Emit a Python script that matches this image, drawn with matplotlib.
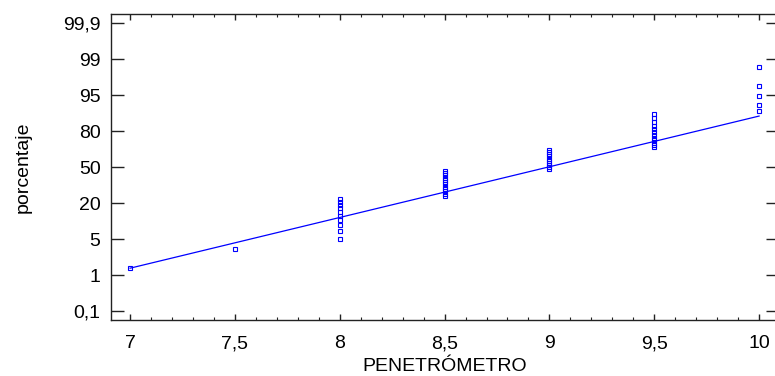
from statistics import NormalDist

import matplotlib
matplotlib.use("Agg")
import matplotlib.pyplot as plt
import numpy as np
from matplotlib.ticker import FixedLocator, NullLocator, MultipleLocator

# penetrometer readings and their cumulative percentages
x_levels = [7.0, 7.5, 8.0, 8.5, 9.0, 9.5, 10.0]
pct_7 = [1.4]
pct_7_5 = [3.4]
pct_8 = [5.1, 7.1, 9.0, 11.0, 12.9, 14.9, 16.8, 18.8, 20.7, 22.7]
pct_8_5 = [24.6, 26.6, 28.5, 30.5, 32.4, 34.4, 36.3, 38.3, 40.2, 42.2, 44.1, 46.1]
pct_9 = [48.0, 50.0, 52.0, 53.9, 55.9, 57.8, 59.8, 61.7, 63.7, 65.6]
pct_9_5 = [67.6, 69.5, 71.5, 73.4, 75.4, 77.3, 79.3, 81.2, 83.2, 85.1, 87.1, 89.0]
pct_10 = [90.1, 92.4, 94.7, 96.5, 98.5]

# fitted normal line
fit_x = [7.0, 10.0]
fit_pct = [1.4, 88.0]

y_ticks = [0.1, 1, 5, 20, 50, 80, 95, 99, 99.9]
y_labels = ["0,1", "1", "5", "20", "50", "80", "95", "99", "99,9"]
x_ticks = [7, 7.5, 8, 8.5, 9, 9.5, 10]
x_labels = ["7", "7,5", "8", "8,5", "9", "9,5", "10"]

ND = NormalDist()
TZ = np.array([ND.inv_cdf(t / 100.0) for t in y_ticks])
TI = np.arange(len(y_ticks), dtype=float)


def probit(p):
    p = np.clip(np.asarray(p, dtype=float) / 100.0, 1e-12, 1 - 1e-12)
    return np.array([ND.inv_cdf(v) for v in p.ravel()]).reshape(p.shape)


def forward(p):
    # evenly spaced tick positions, piecewise linear in probit between them
    z = probit(p)
    pos = np.interp(z, TZ, TI)
    lo = z < TZ[0]
    hi = z > TZ[-1]
    pos[lo] = (z[lo] - TZ[0]) / (TZ[1] - TZ[0])
    pos[hi] = TI[-1] + (z[hi] - TZ[-1]) / (TZ[-1] - TZ[-2])
    return pos


def inverse(pos):
    pos = np.asarray(pos, dtype=float)
    z = np.interp(pos, TI, TZ)
    lo = pos < TI[0]
    hi = pos > TI[-1]
    z[lo] = TZ[0] + pos[lo] * (TZ[1] - TZ[0])
    z[hi] = TZ[-1] + (pos[hi] - TI[-1]) * (TZ[-1] - TZ[-2])
    return np.array([ND.cdf(v) * 100.0 for v in z.ravel()]).reshape(z.shape)


plt.rcParams["font.family"] = ["Liberation Sans", "DejaVu Sans"]

fig = plt.figure(figsize=(7.75, 3.76), dpi=100)
ax = fig.add_axes([111 / 775, 56 / 376, 668 / 775, 306 / 376])
ax.set_yscale("function", functions=(forward, inverse))

blue = "#0000ff"
columns = [pct_7, pct_7_5, pct_8, pct_8_5, pct_9, pct_9_5, pct_10]
for xv, pcts in zip(x_levels, columns):
    ax.plot([xv] * len(pcts), pcts, linestyle="none", marker="s", markersize=3.3,
            markerfacecolor="none", markeredgecolor=blue, markeredgewidth=0.8)

ax.plot(fit_x, fit_pct, color=blue, linewidth=0.9)

ax.set_xlim(6.909, 10.095)
ax.set_ylim(inverse(np.array([-0.25]))[0], inverse(np.array([8.25]))[0])

ax.xaxis.set_major_locator(FixedLocator(x_ticks))
ax.set_xticklabels(x_labels)
ax.xaxis.set_minor_locator(MultipleLocator(0.1))
ax.yaxis.set_major_locator(FixedLocator(y_ticks))
ax.set_yticklabels(y_labels)
ax.yaxis.set_minor_locator(NullLocator())

ax.tick_params(axis="x", which="major", direction="in", length=4.5, width=1.0,
               top=True, labelsize=14, pad=11, color="#222222")
ax.tick_params(axis="x", which="minor", direction="in", length=2.5, width=0.8,
               top=True, color="#222222")
ax.tick_params(axis="y", which="major", direction="in", length=9.5, width=1.0,
               right=True, labelsize=14, pad=7.5, color="#222222")

for side in ["left", "bottom", "top", "right"]:
    ax.spines[side].set_linewidth(1.0)
    ax.spines[side].set_color("#222222")

ax.set_xlabel("PENETRÓMETRO", fontsize=14, labelpad=4)
ax.set_ylabel("porcentaje", fontsize=14)
ax.yaxis.set_label_coords(-0.118, 0.5)

fig.savefig("out.png", dpi=100)
